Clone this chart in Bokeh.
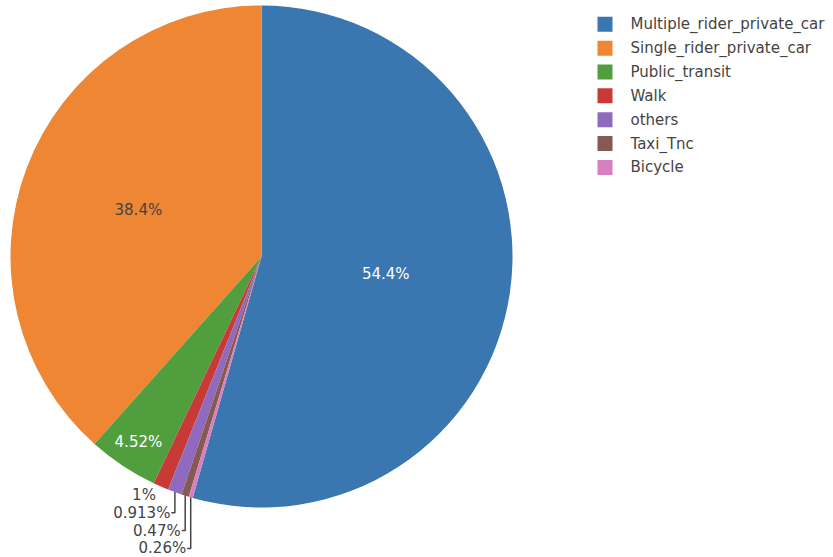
import math
from bokeh.plotting import figure
from bokeh.models import Range1d, ColumnDataSource
from bokeh.core.properties import value
from bokeh.embed import file_html
from bokeh.resources import INLINE

# ---- data ----
categories = ["Multiple_rider_private_car", "Single_rider_private_car", "Public_transit",
              "Walk", "others", "Taxi_Tnc", "Bicycle"]
shares = [54.4, 38.4, 4.52, 1.0, 0.913, 0.47, 0.26]
share_labels = ["54.4%", "38.4%", "4.52%", "1%", "0.913%", "0.47%", "0.26%"]

# ---- style ----
colors = ["#3a76af", "#ee8634", "#519e3e", "#c83a35", "#8f6abf", "#855a50", "#d77fc0"]
W, H = 833, 557
FONT = "DejaVu Sans"
TXT = "#444444"

cx, cy_pix, R = 261.0, 256.0, 251.0
cy = H - cy_pix

p = figure(width=W, height=H, output_backend="svg", toolbar_location=None,
           x_range=Range1d(0, W), y_range=Range1d(0, H), min_border=0)
p.axis.visible = False
p.grid.visible = False
p.outline_line_color = None
p.background_fill_color = "white"
p.border_fill_color = "white"

total = sum(shares)
# angular order counter-clockwise from 12 o'clock: all slices after the first, then the first
order = list(range(1, len(shares))) + [0]
start_deg = {}
end_deg = {}
acc = 90.0
for i in order:
    span = 360.0 * shares[i] / total
    start_deg[i] = acc
    end_deg[i] = acc + span
    acc += span

src = ColumnDataSource(dict(
    x=[cx] * len(shares), y=[cy] * len(shares),
    start=[math.radians(start_deg[i]) for i in range(len(shares))],
    end=[math.radians(end_deg[i]) for i in range(len(shares))],
    color=colors,
))
p.wedge(x="x", y="y", radius=R, start_angle="start", end_angle="end",
        direction="anticlock", fill_color="color", line_color=None, source=src)

# ---- inside labels ----
inside = {0: (0.50, "white"), 1: (0.525, TXT), 2: (0.887, "white")}
for i, (frac, col) in inside.items():
    mid = math.radians((start_deg[i] + end_deg[i]) / 2)
    p.text(x=[cx + frac * R * math.cos(mid)], y=[cy + frac * R * math.sin(mid)],
           text=[share_labels[i]], text_align="center", text_baseline="middle",
           text_font=value(FONT), text_font_size="15px", text_color=col)

# ---- outside labels with leader lines ----
out_idx = [3, 4, 5, 6]
for k, i in enumerate(out_idx):
    mid = math.radians((start_deg[i] + end_deg[i]) / 2)
    rx = cx + R * math.cos(mid)
    ry = cy + R * math.sin(mid)
    ly = H - (494.5 + 17.8 * k)
    if ry - ly > 10:
        p.line(x=[rx, rx, rx - 3.5], y=[ry, ly, ly], line_color=TXT, line_width=1.5)
        tx = rx - 4.5
    else:
        tx = rx - 5
    p.text(x=[tx], y=[ly], text=[share_labels[i]], text_align="right",
           text_baseline="middle", text_font=value(FONT), text_font_size="15px",
           text_color=TXT)

# ---- legend ----
leg_x, leg_y0, leg_dy = 604.5, 23.8, 23.85
lx = [leg_x] * len(categories)
ly = [H - (leg_y0 + leg_dy * k) for k in range(len(categories))]
p.scatter(x=lx, y=ly, marker="square", size=15, fill_color=colors, line_color=None)
p.text(x=[leg_x + 25.5] * len(categories), y=ly, text=categories, text_align="left",
       text_baseline="middle", text_font=value(FONT), text_font_size="15px",
       text_color=TXT)

open("out.html", "w").write(file_html(p, INLINE))
